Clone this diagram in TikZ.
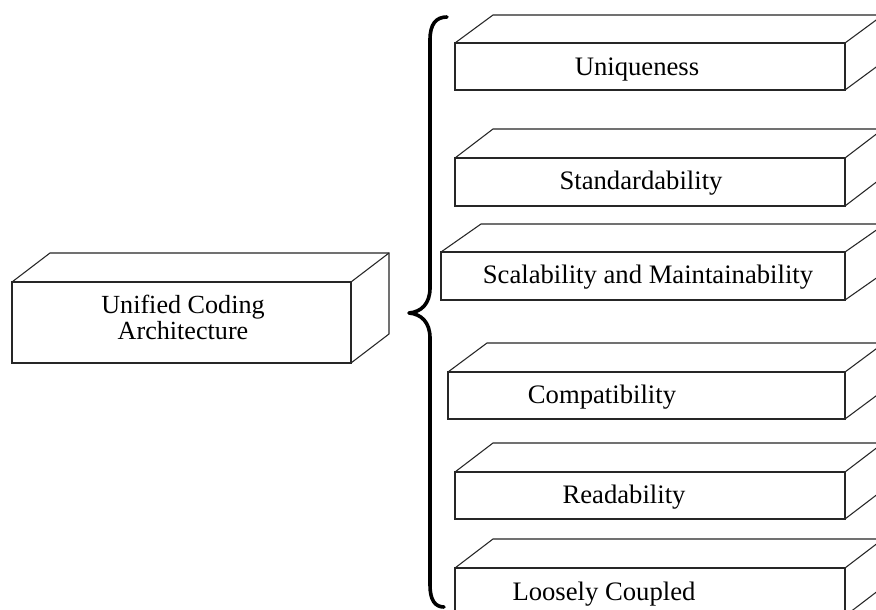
\documentclass[tikz,border=0pt]{standalone}
\usepackage{fontspec}
\setmainfont{Liberation Serif}
\usetikzlibrary{calc}
\tikzset{
  face/.style={draw=black!85, line width=0.8pt, inner sep=0pt, outer sep=0pt, fill=white},
  edge/.style={draw=black!85, line width=0.8pt, line join=miter},
  lbl/.style={anchor=base, inner sep=0pt, font=\fontsize{20}{17.25}\selectfont, align=center},
  bracestyle/.style={draw=black, line width=2.7pt, line cap=round, line join=round}
}
\newcommand\depthfaces[3]{%
  \draw[edge] (#1.north west) -- ++(#2,#3) -- ($(#1.north east)+(#2,#3)$) -- ($(#1.south east)+(#2,#3)$) -- (#1.south east);
  \draw[edge] (#1.north east) -- ++(#2,#3);
}
\begin{document}
\begin{tikzpicture}[x=0.75pt,y=-0.75pt]
\useasboundingbox (0,0) rectangle (876,610);
\clip (0,0) rectangle (876,610);
\fill[white] (0,0) rectangle (876,610);

% left box
\node[face, minimum width=339*0.75pt, minimum height=81*0.75pt] (uca) at (181.5,322.5) {};
\depthfaces{uca}{38}{-29}
\node[lbl, font=\fontsize{19.6}{17}\selectfont] (tuca1) at (183,313) {Unified Coding};
\node[lbl, font=\fontsize{19.6}{17}\selectfont] (tuca2) at (183,339) {Architecture};

% right boxes
\node[face, minimum width=390*0.75pt, minimum height=47*0.75pt] (b1) at (650,66.5) {};
\depthfaces{b1}{38}{-28}
\node[lbl] (t1) at (637,76) {Uniqueness};

\node[face, minimum width=390*0.75pt, minimum height=48*0.75pt] (b2) at (650,182) {};
\depthfaces{b2}{38}{-29}
\node[lbl] (t2) at (641,190) {Standardability};

\node[face, minimum width=404*0.75pt, minimum height=48*0.75pt] (b3) at (643,276) {};
\depthfaces{b3}{40}{-28}
\node[lbl] (t3) at (648,283) {Scalability and Maintainability};

\node[face, minimum width=397*0.75pt, minimum height=47*0.75pt] (b4) at (646.5,395.5) {};
\depthfaces{b4}{39}{-29}
\node[lbl] (t4) at (602,403) {Compatibility};

\node[face, minimum width=390*0.75pt, minimum height=47*0.75pt] (b5) at (650,495.5) {};
\depthfaces{b5}{38}{-29}
\node[lbl] (t5) at (624,503) {Readability};

\node[face, minimum width=390*0.75pt, minimum height=48*0.75pt] (b6) at (650,592) {};
\depthfaces{b6}{38}{-29}
\node[lbl] (t6) at (604,600) {Loosely Coupled};

% brace
\draw[bracestyle] (447,17) .. controls (436,17) and (430,24) .. (430,40)
  -- (430,288) .. controls (430,304) and (421,312) .. (409,313)
  .. controls (421,314) and (430,322) .. (430,338)
  -- (430,585) .. controls (430,600) and (435,607) .. (444,607);
\end{tikzpicture}
\end{document}
